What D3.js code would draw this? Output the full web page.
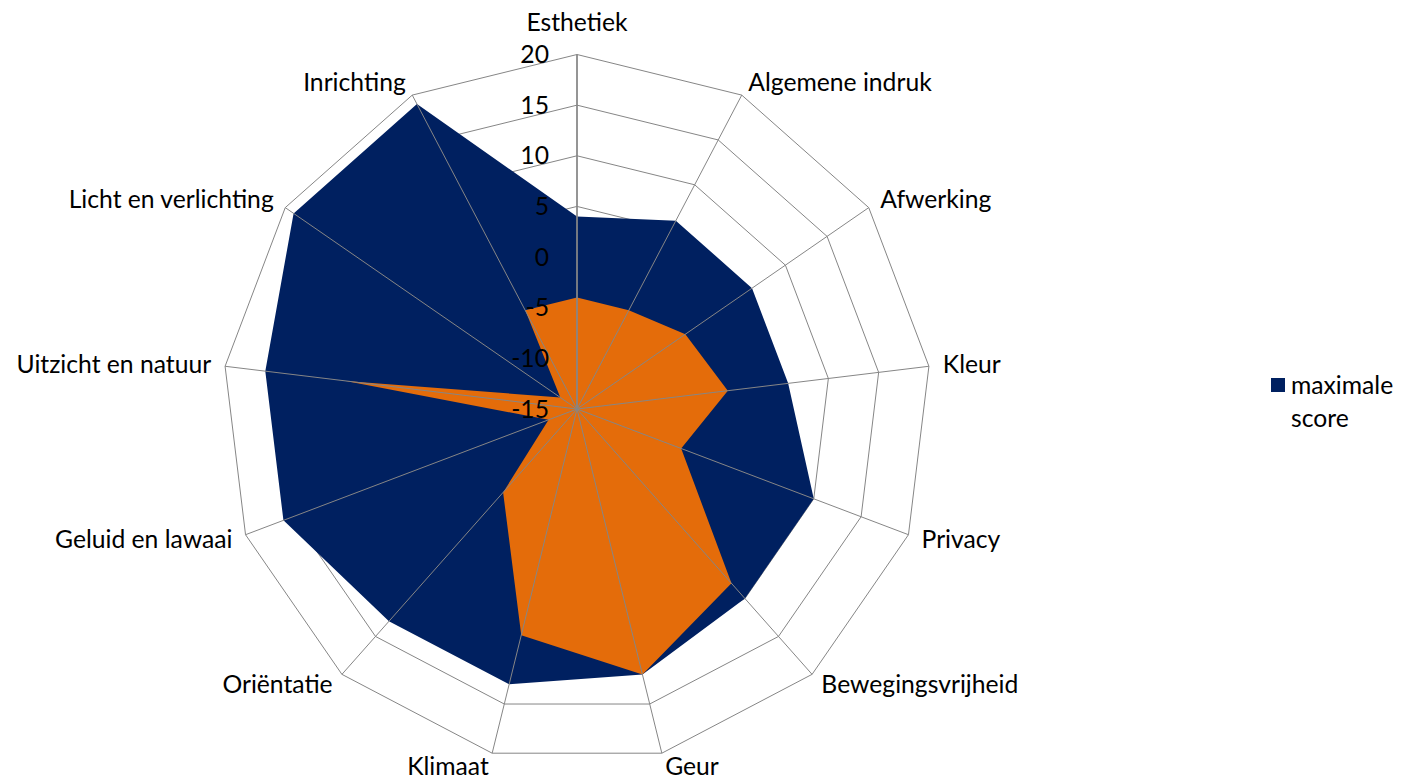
<!DOCTYPE html>
<html>
<head>
<meta charset="utf-8">
<script src="https://cdn.jsdelivr.net/npm/d3@7"></script>
<style>
  body { margin: 0; background: #fff; }
  text { font-family: Lato, "Open Sans", sans-serif; fill: #000; }
</style>
</head>
<body>
<div class="chart"></div>
<script>
// categories, clockwise from the top
var categories = ["Esthetiek", "Algemene indruk", "Afwerking", "Kleur", "Privacy",
    "Bewegingsvrijheid", "Geur", "Klimaat", "Oriëntatie", "Geluid en lawaai",
    "Uitzicht en natuur", "Licht en verlichting", "Inrichting"];

var maxScore = [4, 6, 6, 6, 10, 10, 12, 13, 13, 16, 16, 19, 19];
var score = [-4, -4, -2, 0, -4, 8, 12, 8, -4, -12, 8, -13, -4];

var tickValues = [-15, -10, -5, 0, 5, 10, 15, 20];

var width = 1401, height = 779;
var cx = 577, cy = 409;
var fontSize = 24.7;

var n = categories.length;

var rScale = d3.scaleLinear().domain([-15, 20]).range([0, 354.5]);

function angle(i) { return i * 2 * Math.PI / n; }

var svg = d3.select(".chart")
    .append("svg")
    .attr("width", width)
    .attr("height", height);

var g = svg.append("g")
    .attr("transform", "translate(" + cx + "," + cy + ")");

var radial = d3.lineRadial()
    .angle(function(d, i) { return angle(i); })
    .radius(function(d) { return rScale(d); })
    .curve(d3.curveLinearClosed);

// rings
g.selectAll(".ring")
    .data(tickValues.slice(1))
    .enter().append("path")
    .attr("class", "ring")
    .attr("d", function(t) { return radial(categories.map(function() { return t; })); })
    .attr("fill", "none")
    .attr("stroke", "#868686")
    .attr("stroke-width", 1);

// series areas
g.append("path")
    .attr("d", radial(maxScore))
    .attr("fill", "#002060");

g.append("path")
    .attr("d", radial(score))
    .attr("fill", "#E46C0A");

// spokes
g.selectAll(".spoke")
    .data(categories)
    .enter().append("line")
    .attr("class", "spoke")
    .attr("x1", 0).attr("y1", 0)
    .attr("x2", function(d, i) { return rScale(20) * Math.sin(angle(i)); })
    .attr("y2", function(d, i) { return -rScale(20) * Math.cos(angle(i)); })
    .attr("stroke", "#868686")
    .attr("stroke-width", function(d, i) { return i == 0 ? 1.75 : 1; });

// value axis labels
g.selectAll(".tick")
    .data(tickValues)
    .enter().append("text")
    .attr("class", "tick")
    .attr("x", -28)
    .attr("y", function(t) { return -rScale(t); })
    .attr("dy", "0.35em")
    .attr("text-anchor", "end")
    .style("font-size", fontSize + "px")
    .text(function(t) { return t; });

// category labels
var labelR = rScale(20) + 14;

g.selectAll(".cat")
    .data(categories)
    .enter().append("text")
    .attr("class", "cat")
    .attr("x", function(d, i) { return labelR * Math.sin(angle(i)); })
    .attr("y", function(d, i) {
        var s = Math.sin(angle(i)), c = Math.cos(angle(i));
        var y = -labelR * c;
        if (Math.abs(s) < 0.1) y -= c * 18;
        return y;
    })
    .attr("dy", "0.35em")
    .attr("text-anchor", function(d, i) {
        var s = Math.sin(angle(i));
        return s > 0.1 ? "start" : (s < -0.1 ? "end" : "middle");
    })
    .style("font-size", fontSize + "px")
    .text(function(d) { return d; });

// legend
var legend = svg.append("g").attr("transform", "translate(1271,378)");

legend.append("rect")
    .attr("width", 14).attr("height", 14)
    .attr("fill", "#002060");

legend.append("text")
    .attr("x", 20).attr("y", 7).attr("dy", "0.35em")
    .style("font-size", fontSize + "px")
    .text("maximale");

legend.append("text")
    .attr("x", 20).attr("y", 40).attr("dy", "0.35em")
    .style("font-size", fontSize + "px")
    .text("score");
</script>
</body>
</html>
